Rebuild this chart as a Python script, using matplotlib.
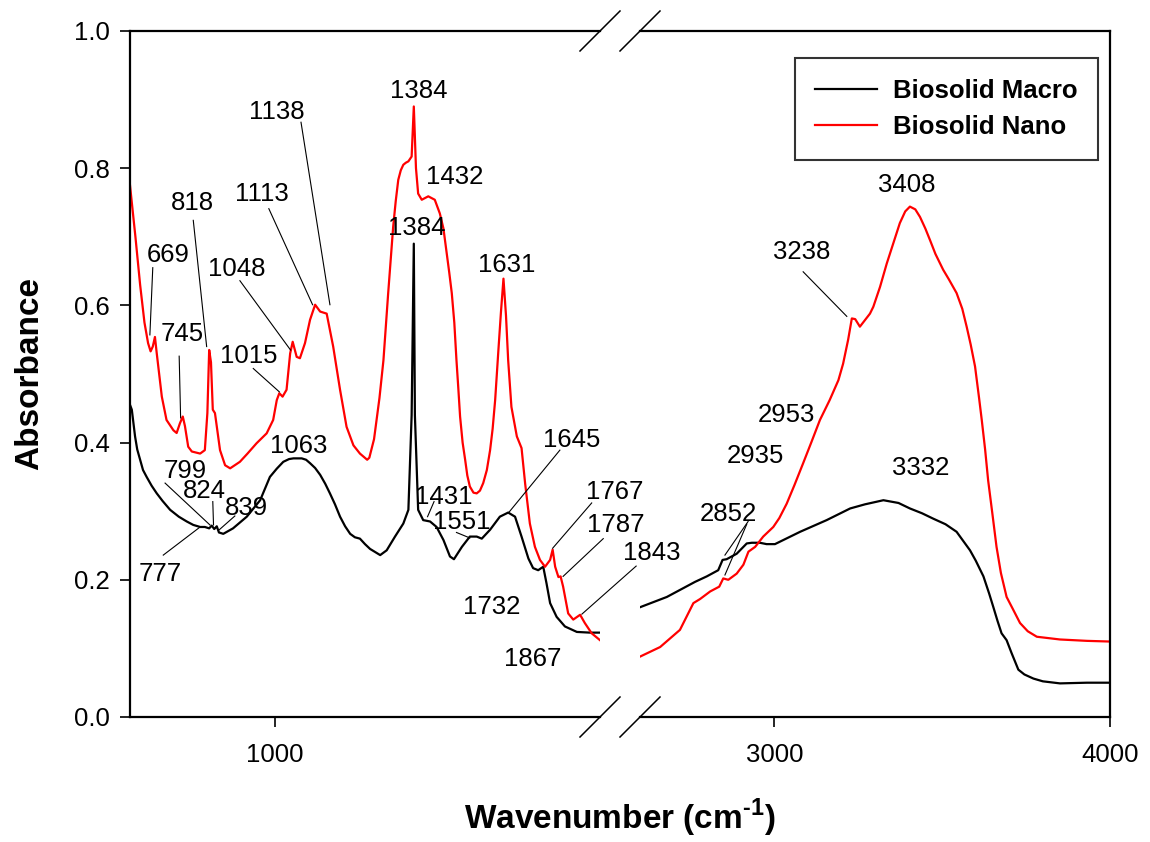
import matplotlib
matplotlib.use("Agg")
import matplotlib.pyplot as plt
from matplotlib.lines import Line2D

plt.rcParams['font.family'] = ['Liberation Sans', 'DejaVu Sans']
plt.rcParams['mathtext.fontset'] = 'custom'
plt.rcParams['mathtext.bf'] = 'Liberation Sans:bold'
plt.rcParams['mathtext.rm'] = 'Liberation Sans'

# ---- data: low wavenumber region (600-1900 cm-1) ----
nano_wn_low = [600, 615, 628, 640, 650, 657, 663, 669, 674, 688, 701, 720, 729, 738, 746, 752,
               761, 771, 794, 807, 814, 819, 824, 829, 835, 849, 863, 877, 904, 925, 950, 978, 996,
               1006, 1013, 1022, 1033, 1043, 1050, 1061, 1070, 1084, 1098, 1112, 1126, 1144, 1162,
               1181, 1199, 1218, 1236, 1256, 1262, 1275, 1290, 1301, 1314, 1328, 1335, 1342, 1349,
               1356, 1363, 1370, 1379, 1385, 1391, 1397, 1407, 1425, 1443, 1457, 1467, 1476, 1483,
               1490, 1497, 1503, 1508, 1513, 1520, 1527, 1533, 1540, 1550, 1559, 1568, 1577, 1587,
               1596, 1603, 1610, 1619, 1626, 1633, 1640, 1646, 1655, 1670, 1683, 1693, 1706, 1720,
               1734, 1748, 1762, 1769, 1776, 1785, 1791, 1798, 1812, 1826, 1845, 1858, 1877, 1900]
nano_abs_low = [0.775, 0.70, 0.63, 0.575, 0.545, 0.533, 0.540, 0.554, 0.530, 0.467, 0.433, 0.418,
                0.414, 0.428, 0.438, 0.424, 0.394, 0.387, 0.384, 0.389, 0.443, 0.535, 0.517, 0.448,
                0.443, 0.389, 0.367, 0.3625, 0.372, 0.384, 0.399, 0.4135, 0.433, 0.462, 0.472,
                0.467, 0.477, 0.530, 0.547, 0.525, 0.523, 0.545, 0.579, 0.601, 0.591, 0.588,
                0.540, 0.477, 0.423, 0.396, 0.384, 0.375, 0.378, 0.405, 0.465, 0.520, 0.617,
                0.715, 0.752, 0.783, 0.797, 0.805, 0.808, 0.810, 0.817, 0.890, 0.800, 0.763,
                0.754, 0.759, 0.754, 0.734, 0.712, 0.676, 0.648, 0.618, 0.575, 0.520, 0.480,
                0.438, 0.400, 0.375, 0.352, 0.336, 0.327, 0.326, 0.330, 0.341, 0.360, 0.389,
                0.420, 0.462, 0.535, 0.590, 0.639, 0.585, 0.520, 0.452, 0.409, 0.392, 0.340,
                0.282, 0.248, 0.229, 0.219, 0.229, 0.244, 0.219, 0.204, 0.205, 0.190, 0.151,
                0.142, 0.149, 0.137, 0.122, 0.112]

macro_wn_low = [600, 605, 614, 620, 628, 636, 646, 660, 674, 690, 711, 735, 757, 775, 794, 807,
                819, 826, 833, 840, 846, 858, 885, 923, 960, 987, 1006, 1024, 1040, 1052, 1075,
                1087, 1098, 1112, 1126, 1140, 1153, 1167, 1181, 1195, 1209, 1222, 1236, 1250,
                1264, 1292, 1310, 1333, 1356, 1370, 1379, 1385, 1388, 1397, 1411, 1430, 1448,
                1467, 1485, 1496, 1518, 1540, 1559, 1573, 1596, 1623, 1646, 1665, 1683, 1702,
                1715, 1729, 1743, 1752, 1762, 1780, 1803, 1836, 1872, 1900]
macro_abs_low = [0.455, 0.448, 0.409, 0.390, 0.375, 0.360, 0.350, 0.337, 0.326, 0.315, 0.302,
                 0.292, 0.285, 0.280, 0.277, 0.277, 0.275, 0.279, 0.274, 0.278, 0.269, 0.267,
                 0.275, 0.292, 0.316, 0.350, 0.362, 0.372, 0.376, 0.377, 0.377, 0.375, 0.370,
                 0.363, 0.353, 0.340, 0.326, 0.310, 0.292, 0.278, 0.267, 0.262, 0.260, 0.252,
                 0.245, 0.236, 0.243, 0.263, 0.282, 0.302, 0.440, 0.690, 0.440, 0.302, 0.287,
                 0.285, 0.277, 0.258, 0.234, 0.230, 0.248, 0.263, 0.263, 0.260, 0.273, 0.292,
                 0.298, 0.292, 0.263, 0.231, 0.217, 0.214, 0.219, 0.195, 0.166, 0.146, 0.132,
                 0.124, 0.123, 0.123]

# ---- data: high wavenumber region (2600-4000 cm-1) ----
nano_wn_high = [2600, 2660, 2719, 2759, 2779, 2809, 2836, 2848, 2863, 2888, 2908, 2923, 2943,
                2967, 2997, 3015, 3037, 3060, 3086, 3110, 3136, 3165, 3191, 3205, 3220, 3231,
                3241, 3255, 3285, 3295, 3315, 3335, 3374, 3390, 3404, 3420, 3434, 3450, 3464,
                3480, 3503, 3520, 3543, 3560, 3573, 3585, 3598, 3610, 3618, 3628, 3637, 3650,
                3662, 3675, 3692, 3710, 3732, 3755, 3782, 3851, 3931, 4000]
nano_abs_high = [0.088, 0.102, 0.127, 0.166, 0.172, 0.183, 0.190, 0.202, 0.200, 0.209, 0.222,
                 0.241, 0.248, 0.263, 0.277, 0.290, 0.311, 0.338, 0.370, 0.400, 0.433, 0.462,
                 0.491, 0.515, 0.550, 0.581, 0.580, 0.569, 0.588, 0.598, 0.627, 0.661, 0.720,
                 0.737, 0.744, 0.740, 0.729, 0.712, 0.695, 0.675, 0.652, 0.638, 0.618, 0.595,
                 0.569, 0.543, 0.511, 0.465, 0.433, 0.390, 0.345, 0.295, 0.248, 0.210, 0.175,
                 0.158, 0.137, 0.125, 0.117, 0.113, 0.111, 0.110]

macro_wn_high = [2600, 2680, 2764, 2799, 2833, 2846, 2858, 2888, 2918, 2933, 2957, 2977, 3002,
                 3027, 3077, 3156, 3226, 3270, 3325, 3370, 3404, 3440, 3474, 3510, 3543, 3583,
                 3600, 3623, 3640, 3652, 3665, 3677, 3692, 3707, 3727, 3745, 3772, 3800, 3851,
                 3931, 4000]
macro_abs_high = [0.160, 0.175, 0.197, 0.205, 0.214, 0.229, 0.230, 0.238, 0.253, 0.254, 0.254,
                  0.252, 0.252, 0.258, 0.270, 0.287, 0.304, 0.310, 0.316, 0.312, 0.304, 0.297,
                  0.289, 0.281, 0.270, 0.243, 0.228, 0.205, 0.180, 0.161, 0.140, 0.122, 0.112,
                  0.093, 0.069, 0.062, 0.056, 0.052, 0.049, 0.050, 0.050]

# peak labels: (text, text position, leader lines)
labels_low = [
    ("669", (705, 0.673), [((663, 0.655), (655, 0.557))]),
    ("745", (744, 0.558), [((736, 0.526), (740, 0.436))]),
    ("818", (774, 0.749), [((775, 0.724), (812, 0.540))]),
    ("1048", (896, 0.653), [((904, 0.636), (1044, 0.535))]),
    ("1113", (965, 0.762), [((984, 0.741), (1105, 0.601))]),
    ("1138", (1007, 0.882), [((1073, 0.867), (1153, 0.601))]),
    ("1015", (929, 0.526), [((941, 0.508), (1013, 0.474))]),
    ("1063", (1067, 0.395), []),
    ("799", (752, 0.359), [((697, 0.341), (821, 0.280))]),
    ("824", (807, 0.329), [((829, 0.314), (831, 0.280))]),
    ("839", (921, 0.305), [((890, 0.293), (847, 0.273))]),
    ("777", (683, 0.208), [((692, 0.236), (794, 0.277))]),
    ("1384", (1399, 0.913), []),
    ("1432", (1499, 0.787), []),
    ("1384", (1394, 0.713), []),
    ("1631", (1643, 0.659), []),
    ("1431", (1469, 0.321), [((1441, 0.314), (1423, 0.292))]),
    ("1551", (1518, 0.284), [((1503, 0.269), (1540, 0.261))]),
    ("1645", (1823, 0.404), [((1789, 0.389), (1649, 0.299))]),
    ("1767", (1942, 0.328), [((1877, 0.312), (1769, 0.246))]),
    ("1787", (1944, 0.280), [((1909, 0.260), (1798, 0.205))]),
    ("1843", (2044, 0.239), [((2000, 0.220), (1850, 0.150))]),
    ("1732", (1601, 0.160), []),
    ("1867", (1715, 0.085), []),
]
labels_high = [
    ("2852", (2862, 0.296), [((2922, 0.285), (2853, 0.236)), ((2918, 0.281), (2853, 0.207))]),
    ("2935", (2943, 0.380), []),
    ("2953", (3035, 0.440), []),
    ("3238", (3083, 0.678), [((3086, 0.649), (3216, 0.584))]),
    ("3408", (3395, 0.776), []),
    ("3332", (3437, 0.363), []),
]

FS = 18.5

fig = plt.figure(figsize=(11.5, 8.42), dpi=100)
ax1 = fig.add_axes([130 / 1150, 1 - 717 / 842, 470 / 1150, 686 / 842])
ax2 = fig.add_axes([640 / 1150, 1 - 717 / 842, 470 / 1150, 686 / 842])
ax2.patch.set_visible(False)

for ax in (ax1, ax2):
    ax.set_ylim(0, 1.0)
    for s in ax.spines.values():
        s.set_linewidth(1.6)
    ax.tick_params(direction="out", length=7.5, width=1.2, labelsize=FS, top=False, right=False)
    ax.tick_params(axis="x", pad=11)
    ax.tick_params(axis="y", pad=7)

ax1.plot(macro_wn_low, macro_abs_low, color="black", lw=1.6)
ax1.plot(nano_wn_low, nano_abs_low, color="red", lw=1.6)
ax2.plot(macro_wn_high, macro_abs_high, color="black", lw=1.6, label="Biosolid Macro")
ax2.plot(nano_wn_high, nano_abs_high, color="red", lw=1.6, label="Biosolid Nano")

ax1.set_xlim(600, 1900)
ax1.set_xticks([1000])
ax1.set_yticks([0.0, 0.2, 0.4, 0.6, 0.8, 1.0])
ax1.set_yticklabels(["0.0", "0.2", "0.4", "0.6", "0.8", "1.0"])
ax1.spines["right"].set_visible(False)

ax2.set_xlim(2600, 4000)
ax2.set_xticks([3000, 4000])
ax2.spines["left"].set_visible(False)
ax2.tick_params(left=False, labelleft=False)

for ax, labels in ((ax1, labels_low), (ax2, labels_high)):
    for txt, pos, lines in labels:
        ax.text(pos[0], pos[1], txt, fontsize=FS, ha="center", va="center", clip_on=False)
        for (x0, y0), (x1, y1) in lines:
            ax.plot([x0, x1], [y0, y1], color="black", lw=0.8, clip_on=False)

# axis break marks
dx, dy = 20 / 470, 20 / 686
for ax, xc in ((ax1, 1.0), (ax2, 0.0)):
    for yc in (0.0, 1.0):
        ax.add_line(Line2D([xc - dx, xc + dx], [yc - dy, yc + dy], transform=ax.transAxes,
                           color="black", lw=1.1, clip_on=False))

leg = ax2.legend(loc="upper right", bbox_to_anchor=(0.9745, 0.9606), fancybox=False,
                 prop={"weight": "bold", "size": FS}, handlelength=2.4, borderpad=0.8,
                 labelspacing=0.5, handletextpad=0.62, borderaxespad=0)
leg.get_frame().set_edgecolor("black")
leg.get_frame().set_linewidth(1.5)

fig.text(30 / 1150, 1 - 374 / 842, "Absorbance", rotation=90, fontsize=24, fontweight="bold",
         ha="center", va="center")
fig.text(620 / 1150, 1 - 818 / 842, "Wavenumber (cm$^{\\mathbf{\u20101}}$)", fontsize=24,
         fontweight="bold", ha="center", va="center")

fig.savefig("out.png", dpi=100)
